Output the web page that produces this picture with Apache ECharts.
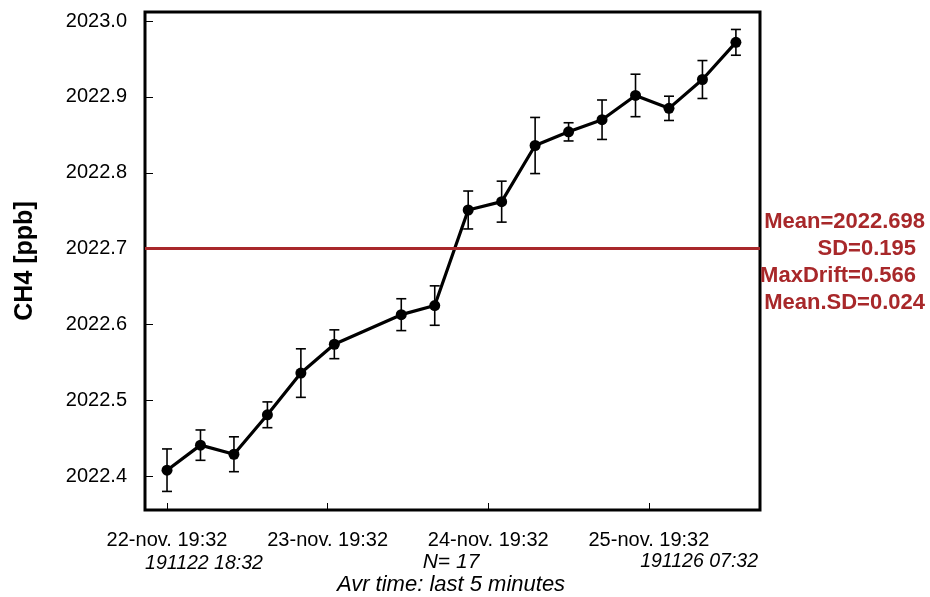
<!DOCTYPE html>
<html>
<head>
<meta charset="utf-8">
<script src="https://cdn.jsdelivr.net/npm/echarts@6/dist/echarts.min.js"></script>
<style>
  html, body { margin: 0; padding: 0; background: #fff; }
  #chart { width: 930px; height: 597px; }
</style>
</head>
<body>
<div id="chart"></div>
<script>
// hours since 22-nov 19:32
const hours = [0, 5, 10, 15, 20, 25, 35, 40, 45, 50, 55, 60, 65, 70, 75, 80, 85]
const ch4 = [2022.408, 2022.441, 2022.429, 2022.481, 2022.536, 2022.574, 2022.613, 2022.625, 2022.751,
  2022.762, 2022.836, 2022.854, 2022.870, 2022.902, 2022.885, 2022.923, 2022.972]
const sd = [0.028, 0.020, 0.023, 0.017, 0.032, 0.019, 0.021, 0.026, 0.025,
  0.027, 0.037, 0.012, 0.026, 0.028, 0.016, 0.025, 0.017]
const xTicks = [0, 24, 48, 72]
const xTickLabels = ['22-nov. 19:32', '23-nov. 19:32', '24-nov. 19:32', '25-nov. 19:32']
const yTicks = [2022.4, 2022.5, 2022.6, 2022.7, 2022.8, 2022.9, 2023.0]
const meanValue = 2022.698
const statLines = ['Mean=2022.698', 'SD=0.195', 'MaxDrift=0.566', 'Mean.SD=0.024']
const startLabel = '191122 18:32'
const endLabel = '191126 07:32'
const countLabel = 'N= 17'
const avrLabel = 'Avr time: last 5 minutes'

const font = '"Liberation Sans", Arial, sans-serif'
const red = '#a8282a'

const chart = echarts.init(document.getElementById('chart'))

const points = hours.map((h, i) => [h, ch4[i]])
const bars = hours.map((h, i) => [h, ch4[i] - sd[i], ch4[i] + sd[i]])

// stats text, each line placed on its own
const statPos = [[925, 222], [916, 249], [916, 276], [925, 303]]
const graphics = statLines.map((t, i) => ({
  type: 'text',
  x: statPos[i][0],
  y: statPos[i][1],
  style: {
    text: t, fill: red, font: 'bold 22px ' + font,
    textAlign: 'right', textVerticalAlign: 'middle'
  }
}))
graphics.push(
  { type: 'text', x: 204, y: 564, style: { text: startLabel, font: 'italic 19.5px ' + font, fill: '#000', textAlign: 'center', textVerticalAlign: 'middle' } },
  { type: 'text', x: 451, y: 562, style: { text: countLabel, font: 'italic 21px ' + font, fill: '#000', textAlign: 'center', textVerticalAlign: 'middle' } },
  { type: 'text', x: 758, y: 562, style: { text: endLabel, font: 'italic 19.5px ' + font, fill: '#000', textAlign: 'right', textVerticalAlign: 'middle' } },
  { type: 'text', x: 451, y: 585, style: { text: avrLabel, font: 'italic 22px ' + font, fill: '#000', textAlign: 'center', textVerticalAlign: 'middle' } }
)

chart.setOption({
  backgroundColor: '#fff',
  animation: false,
  grid: {
    left: 145,
    right: 170,
    top: 12,
    bottom: 87,
    show: true,
    borderColor: '#000',
    borderWidth: 3
  },
  xAxis: {
    type: 'value',
    min: -3.29,
    max: 88.6,
    splitLine: { show: false },
    axisLine: { show: false, onZero: false },
    axisTick: {
      show: true, inside: true, length: 7,
      customValues: xTicks,
      lineStyle: { color: '#000', width: 1 }
    },
    axisLabel: {
      customValues: xTicks,
      margin: 20,
      color: '#000',
      fontSize: 20,
      fontFamily: font,
      formatter: v => xTickLabels[xTicks.indexOf(v)]
    }
  },
  yAxis: {
    type: 'value',
    min: 2022.3555,
    max: 2023.012,
    name: 'CH4 [ppb]',
    nameLocation: 'middle',
    nameGap: 107,
    nameTextStyle: { fontSize: 25, fontWeight: 'bold', color: '#000', fontFamily: font },
    splitLine: { show: false },
    axisLine: { show: false, onZero: false },
    axisTick: {
      show: true, inside: true, length: 8,
      customValues: yTicks,
      lineStyle: { color: '#000', width: 1 }
    },
    axisLabel: {
      customValues: yTicks,
      margin: 18,
      color: '#000',
      fontSize: 20,
      fontFamily: font,
      formatter: v => v.toFixed(1)
    }
  },
  graphic: graphics,
  series: [
    {
      type: 'custom',
      data: bars,
      z: 2,
      renderItem(params, api) {
        const x = api.value(0)
        const lo = api.coord([x, api.value(1)])
        const hi = api.coord([x, api.value(2)])
        const w = 5
        const style = { stroke: '#000', lineWidth: 1.6 }
        return {
          type: 'group',
          children: [
            { type: 'line', shape: { x1: lo[0], y1: lo[1], x2: hi[0], y2: hi[1] }, style },
            { type: 'line', shape: { x1: lo[0] - w, y1: lo[1], x2: lo[0] + w, y2: lo[1] }, style },
            { type: 'line', shape: { x1: hi[0] - w, y1: hi[1], x2: hi[0] + w, y2: hi[1] }, style }
          ]
        }
      }
    },
    {
      type: 'line',
      data: points,
      z: 3,
      symbol: 'circle',
      symbolSize: 11,
      itemStyle: { color: '#000' },
      lineStyle: { color: '#000', width: 3.2 },
      markLine: {
        silent: true,
        symbol: 'none',
        label: { show: false },
        lineStyle: { color: red, width: 3, type: 'solid' },
        data: [{ yAxis: meanValue }]
      }
    }
  ]
})
</script>
</body>
</html>
